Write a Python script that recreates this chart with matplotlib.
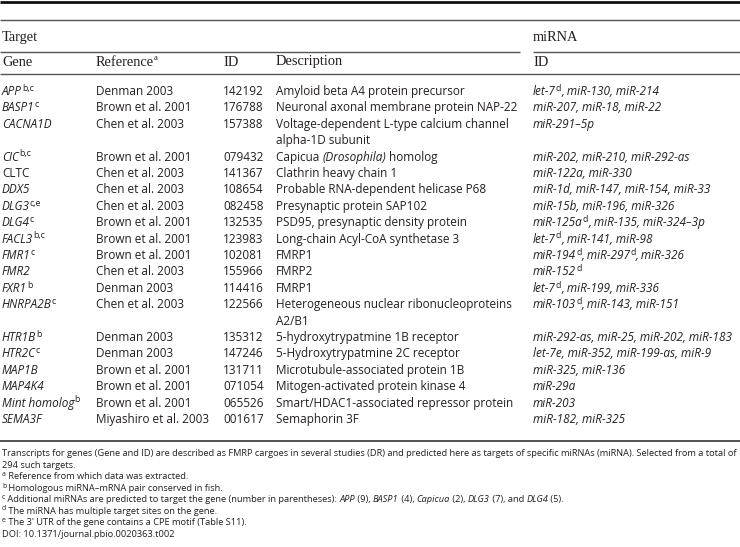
import matplotlib
matplotlib.use('Agg')
import matplotlib.pyplot as plt

# ---------------- data ----------------
genes = ["*APP*^{b,c}", "*BASP1*^{c}", "*CACNA1D*", "*CIC*^{b,c}", "CLTC", "*DDX5*",
         "*DLG3*^{c,e}", "*DLG4*^{c}", "*FACL3*^{b,c}", "*FMR1*^{c}", "*FMR2*", "*FXR1*^{b}",
         "*HNRPA2B*^{c}", "*HTR1B*^{b}", "*HTR2C*^{c}", "*MAP1B*", "*MAP4K4*",
         "*Mint homolog*^{b}", "*SEMA3F*"]
references = ["Denman 2003", "Brown et al. 2001", "Chen et al. 2003", "Brown et al. 2001",
              "Chen et al. 2003", "Chen et al. 2003", "Chen et al. 2003", "Brown et al. 2001",
              "Brown et al. 2001", "Brown et al. 2001", "Chen et al. 2003", "Denman 2003",
              "Chen et al. 2003", "Denman 2003", "Denman 2003", "Brown et al. 2001",
              "Brown et al. 2001", "Brown et al. 2001", "Miyashiro et al. 2003"]
ids = ["142192", "176788", "157388", "079432", "141367", "108654", "082458", "132535",
       "123983", "102081", "155966", "114416", "122566", "135312", "147246", "131711",
       "071054", "065526", "001617"]
descriptions = ["Amyloid beta A4 protein precursor",
                "Neuronal axonal membrane protein NAP-22",
                "Voltage-dependent L-type calcium channel\nalpha-1D subunit",
                "Capicua *(Drosophila)* homolog",
                "Clathrin heavy chain 1",
                "Probable RNA-dependent helicase P68",
                "Presynaptic protein SAP102",
                "PSD95, presynaptic density protein",
                "Long-chain Acyl-CoA synthetase 3",
                "FMRP1", "FMRP2", "FMRP1",
                "Heterogeneous nuclear ribonucleoproteins\nA2/B1",
                "5-hydroxytrypatmine 1B receptor",
                "5-Hydroxytrypatmine 2C receptor",
                "Microtubule-associated protein 1B",
                "Mitogen-activated protein kinase 4",
                "Smart/HDAC1-associated repressor protein",
                "Semaphorin 3F"]
mirnas = ["let-7^{d}, miR-130, miR-214", "miR-207, miR-18, miR-22", "miR-291\u20135p",
          "miR-202, miR-210, miR-292-as", "miR-122a, miR-330",
          "miR-1d, miR-147, miR-154, miR-33", "miR-15b, miR-196, miR-326",
          "miR-125a^{d}, miR-135, miR-324\u20133p", "let-7^{d}, miR-141, miR-98",
          "miR-194^{d}, miR-297^{d}, miR-326", "miR-152^{d}", "let-7^{d}, miR-199, miR-336",
          "miR-103^{d}, miR-143, miR-151", "miR-292-as, miR-25, miR-202, miR-183",
          "let-7e, miR-352, miR-199-as, miR-9", "miR-325, miR-136", "miR-29a", "miR-203",
          "miR-182, miR-325"]
group_headers = ["Target", "miRNA"]
col_headers = ["Gene", "Reference^{a}", "ID", "Description", "ID"]
caption = ["Transcripts for genes (Gene and ID) are described as FMRP cargoes in several studies (DR) and predicted here as targets of specific miRNAs (miRNA). Selected from a total of",
           "294 such targets.",
           "^{a} Reference from which data was extracted.",
           "^{b} Homologous miRNA\u2013mRNA pair conserved in fish.",
           "^{c} Additional miRNAs are predicted to target the gene (number in parentheses): *APP* (9), *BASP1* (4), *Capicua* (2), *DLG3* (7), and *DLG4* (5).",
           "^{d} The miRNA has multiple target sites on the gene.",
           "^{e} The 3' UTR of the gene contains a CPE motif (Table S11).",
           "DOI: 10.1371/journal.pbio.0020363.t002"]

# ---------------- layout ----------------
W, H = 740, 547
fig = plt.figure(figsize=(W / 100, H / 100), dpi=100)
ax = fig.add_axes([0, 0, 1, 1])
ax.set_xlim(0, W)
ax.set_ylim(H, 0)
ax.axis('off')
renderer = fig.canvas.get_renderer()

BODY = 'Open Sans'
HEAD = 'Liberation Serif'
INK = '#231f20'


def parse(markup, italic_default=False):
    runs, italic, buf, i = [], italic_default, '', 0
    while i < len(markup):
        c = markup[i]
        if c == '*':
            if buf:
                runs.append((buf, italic, False))
                buf = ''
            italic = not italic
            i += 1
        elif c == '^' and i + 1 < len(markup) and markup[i + 1] == '{':
            if buf:
                runs.append((buf, italic, False))
                buf = ''
            j = markup.index('}', i)
            runs.append((markup[i + 2:j], False, True))
            i = j + 1
        else:
            buf += c
            i += 1
    if buf:
        runs.append((buf, italic, False))
    return runs


def text_width(s, size, family, italic):
    t = ax.text(0, 0, s + '|', fontsize=size, family=family,
                style='italic' if italic else 'normal')
    w1 = t.get_window_extent(renderer).width
    t.remove()
    t = ax.text(0, 0, '|', fontsize=size, family=family,
                style='italic' if italic else 'normal')
    w2 = t.get_window_extent(renderer).width
    t.remove()
    return w1 - w2


def draw(x, y, markup, size, family=BODY, italic_default=False, color=INK, sup_scale=0.75):
    cx = x
    for s, ital, sup in parse(markup, italic_default):
        fs = size * sup_scale if sup else size
        yy = y - size * 100 / 72 * 0.36 if sup else y
        ax.text(cx, yy, s, fontsize=fs, family=family,
                style='italic' if ital else 'normal', va='baseline', ha='left',
                color=color)
        cx += text_width(s, fs, family, ital)
    return cx


# fit body size to reference width
body_size = 8.5 * 240.5 / text_width("Neuronal axonal membrane protein NAP-22", 8.5, BODY, False)
cap_size = 7.0 * 744 / text_width(caption[0], 7.0, BODY, False)
head_size = 10.4

# rules
ax.hlines(1.5, 0, W, color='#111111', lw=2.0)
ax.hlines(19.5, 0, W, color='#555555', lw=1.0)
ax.hlines(52, 0, 520, color='#555555', lw=1.0)
ax.hlines(52, 533, W, color='#555555', lw=1.0)
ax.hlines(73.5, 0, W, color='#555555', lw=1.0)
ax.hlines(441, 0, W, color='#333333', lw=1.2)

col_x = [2, 96, 223, 276, 533]

# headers
draw(2, 41, group_headers[0], head_size, HEAD)
draw(533, 41, group_headers[1], head_size, HEAD)
for cx, h in zip(col_x, col_headers):
    draw(cx, 65.5, h, head_size, HEAD, sup_scale=0.6)

# body
row0, step = 95.0, 16.4
line = 0
for g, r, i_, d, m in zip(genes, references, ids, descriptions, mirnas):
    y = row0 + line * step
    draw(col_x[0], y, g, body_size)
    draw(col_x[1], y, r, body_size)
    draw(col_x[2], y, i_, body_size)
    dl = d.split('\n')
    for k, part in enumerate(dl):
        draw(col_x[3], y + k * step, part, body_size)
    draw(col_x[4], y, m, body_size, italic_default=True)
    line += len(dl)

# caption
cap0, cstep = 456.5, 11.45
for k, c in enumerate(caption):
    draw(2, cap0 + k * cstep, c, cap_size)

fig.savefig('out.png', dpi=100)
